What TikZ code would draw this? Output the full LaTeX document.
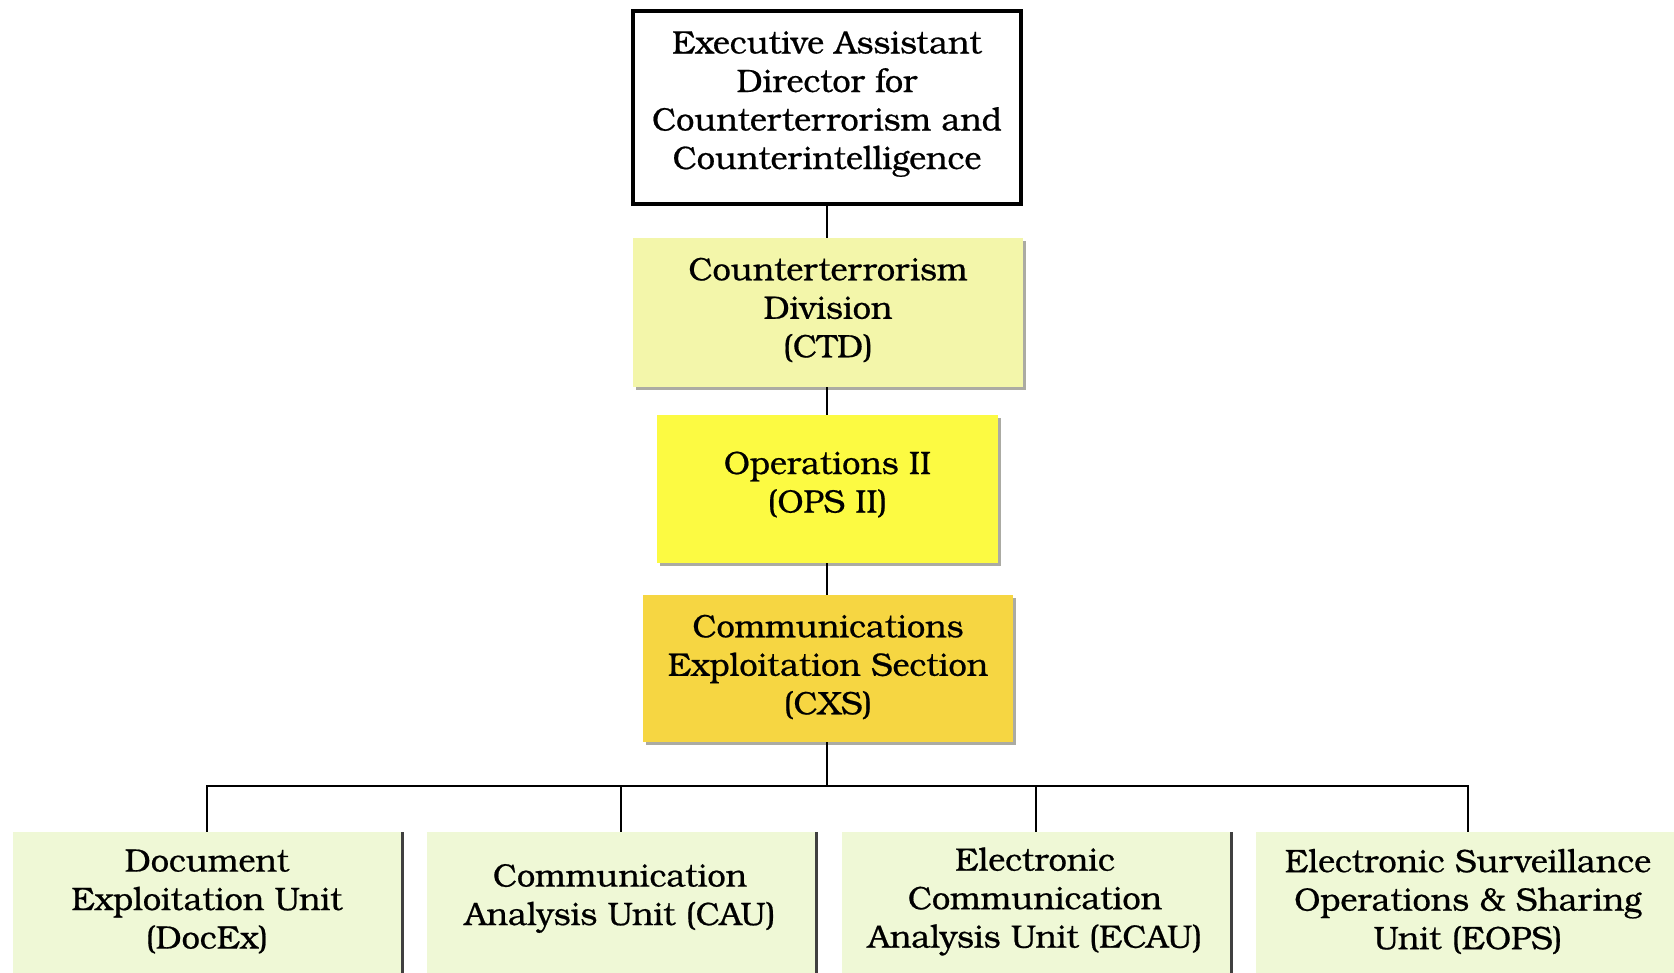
\documentclass[tikz,border=0pt]{standalone}
\usepackage{fontspec}
\setmainfont[FakeBold=0.6]{TeX Gyre Bonum}
\usetikzlibrary{shadows}
\definecolor{ctdfill}{RGB}{243,246,170}
\definecolor{opsfill}{RGB}{252,250,66}
\definecolor{cxsfill}{RGB}{246,214,66}
\definecolor{unitfill}{RGB}{239,248,214}
\definecolor{shade}{RGB}{150,150,140}
\begin{document}
\begin{tikzpicture}[x=1pt,y=-1pt,
  txt/.style={align=center,font=\fontsize{32.5}{38.5}\selectfont,inner sep=0pt},
  orgbox/.style={draw=none,rectangle,inner sep=0pt,
    drop shadow={shadow xshift=3pt,shadow yshift=-3pt,fill=shade,opacity=0.8}},
  unitbox/.style={draw=none,rectangle,inner sep=0pt,fill=unitfill,
    drop shadow={shadow xshift=2.5pt,shadow yshift=0pt,fill=black!75,opacity=1}},
  link/.style={draw=black,line width=1.8pt}]
\useasboundingbox (0,0) rectangle (1674,973);
\fill[white] (0,0) rectangle (1674,973);

% upper chain of command
\node[draw=black,line width=4pt,fill=white,minimum width=388pt,minimum height=193pt] (ead) at (827,107.5) {};
\node[txt] (eadtxt) at (827,104) {Executive Assistant\\Director for\\Counterterrorism and\\Counterintelligence};

\node[orgbox,fill=ctdfill,minimum width=390pt,minimum height=149pt] (ctd) at (828,312.5) {};
\node[txt] (ctdtxt) at (828,310) {Counterterrorism\\Division\\(CTD)};

\node[orgbox,fill=opsfill,minimum width=341pt,minimum height=148pt] (ops) at (827.5,489) {};
\node[txt] (opstxt) at (827.5,484.5) {Operations II\\(OPS II)};

\node[orgbox,fill=cxsfill,minimum width=370pt,minimum height=147pt] (cxs) at (828,668.5) {};
\node[txt] (cxstxt) at (828,667) {Communications\\Exploitation Section\\(CXS)};

% units
\node[unitbox,minimum width=388pt,minimum height=170pt] (doc) at (207,917) {};
\node[txt] (doctxt) at (207,901.5) {Document\\Exploitation Unit\\(DocEx)};

\node[unitbox,minimum width=388pt,minimum height=170pt] (cau) at (621,917) {};
\node[txt] (cautxt) at (620,898.5) {Communication\\Analysis Unit (CAU)};

\node[unitbox,minimum width=388pt,minimum height=170pt] (ecau) at (1036,917) {};
\node[txt] (ecautxt) at (1035,901.5) {Electronic\\Communication\\Analysis Unit (ECAU)};

\node[unitbox,minimum width=424pt,minimum height=170pt] (eops) at (1468,917) {};
\node[txt] (eopstxt) at (1468,901.5) {Electronic Surveillance\\Operations \& Sharing\\Unit (EOPS)};

% connectors
\coordinate (bus) at (827,786);
\draw[link] (ead.south) -- (ead.south |- ctd.north);
\draw[link] (ead.south |- ctd.south) -- (ead.south |- ops.north);
\draw[link] (ead.south |- ops.south) -- (ead.south |- cxs.north);
\draw[link] (ead.south |- cxs.south) -- (bus);
\draw[link] (doc.north) -- (doc.north |- bus) -- (eops.north |- bus) -- (eops.north);
\draw[link] (cau.north) -- (cau.north |- bus);
\draw[link] (ecau.north) -- (ecau.north |- bus);
\end{tikzpicture}
\end{document}
